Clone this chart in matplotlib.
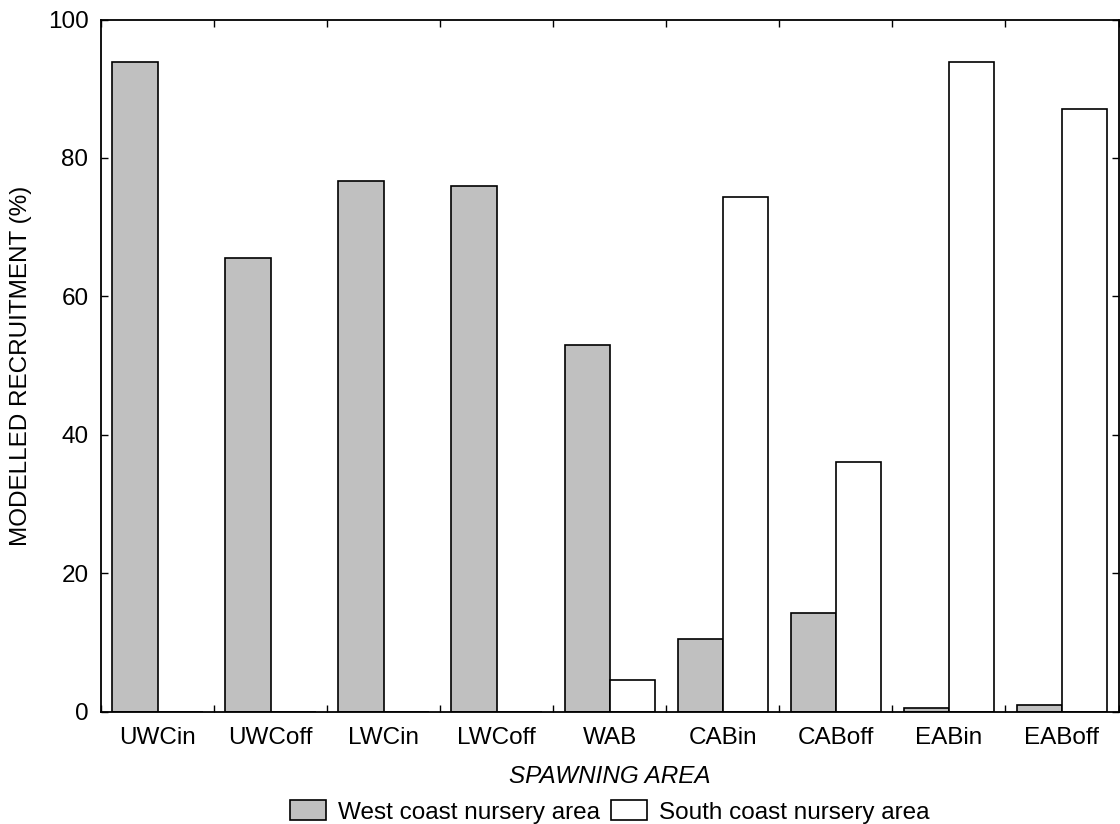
import numpy as np
import matplotlib
matplotlib.use("Agg")
import matplotlib.pyplot as plt

areas = ["UWCin", "UWCoff", "LWCin", "LWCoff", "WAB", "CABin", "CABoff", "EABin", "EABoff"]
west_coast = [93.9, 65.5, 76.6, 75.9, 53.0, 10.5, 14.2, 0.45, 0.9]
south_coast = [0.0, 0.0, 0.0, 0.0, 4.6, 74.3, 36.1, 93.8, 87.1]
y_ticks = [0, 20, 40, 60, 80, 100]


def main():
    plt.rcParams["font.family"] = ["Liberation Sans", "DejaVu Sans"]
    fs = 17.5
    fig = plt.figure(figsize=(11.2, 8.24), dpi=100)
    ax = fig.add_axes([101 / 1120, 1 - 711.5 / 824, 1017.5 / 1120, 692 / 824])

    x = np.arange(len(areas))
    width = 0.4
    ax.bar(x - width / 2, west_coast, width, color="#c0c0c0", edgecolor="black",
           linewidth=1.2, label="West coast nursery area")
    ax.bar(x + width / 2, south_coast, width, color="white", edgecolor="black",
           linewidth=1.2, label="South coast nursery area")

    ax.set_xlim(-0.5, len(areas) - 0.5)
    ax.set_ylim(0, 100)
    ax.set_yticks(y_ticks)

    # ticks on category boundaries, labels on category centres
    ax.set_xticks(np.arange(len(areas) + 1) - 0.5)
    ax.set_xticklabels([])
    ax.set_xticks(x, minor=True)
    ax.set_xticklabels(areas, minor=True)
    ax.tick_params(axis="x", which="minor", length=0, pad=11, labelsize=fs)
    ax.tick_params(axis="x", which="major", direction="in", length=5, width=1,
                   top=True, bottom=True)
    ax.tick_params(axis="y", direction="in", length=5, width=1, right=True,
                   pad=9, labelsize=fs)
    for spine in ax.spines.values():
        spine.set_linewidth(1.3)

    ax.set_xlabel("SPAWNING AREA", fontsize=fs, fontstyle="italic", labelpad=12)
    ax.set_ylabel("MODELLED RECRUITMENT (%)", fontsize=fs)
    ax.yaxis.set_label_coords(-0.068, 0.5)

    fig.legend(loc="center", bbox_to_anchor=(610 / 1120, 12 / 824), ncol=2,
               frameon=False, fontsize=fs, handlelength=1.48, handleheight=0.9,
               handletextpad=0.5, columnspacing=0.45, borderaxespad=0)

    fig.savefig("out.png", dpi=100)


if __name__ == '__main__':
    main()
